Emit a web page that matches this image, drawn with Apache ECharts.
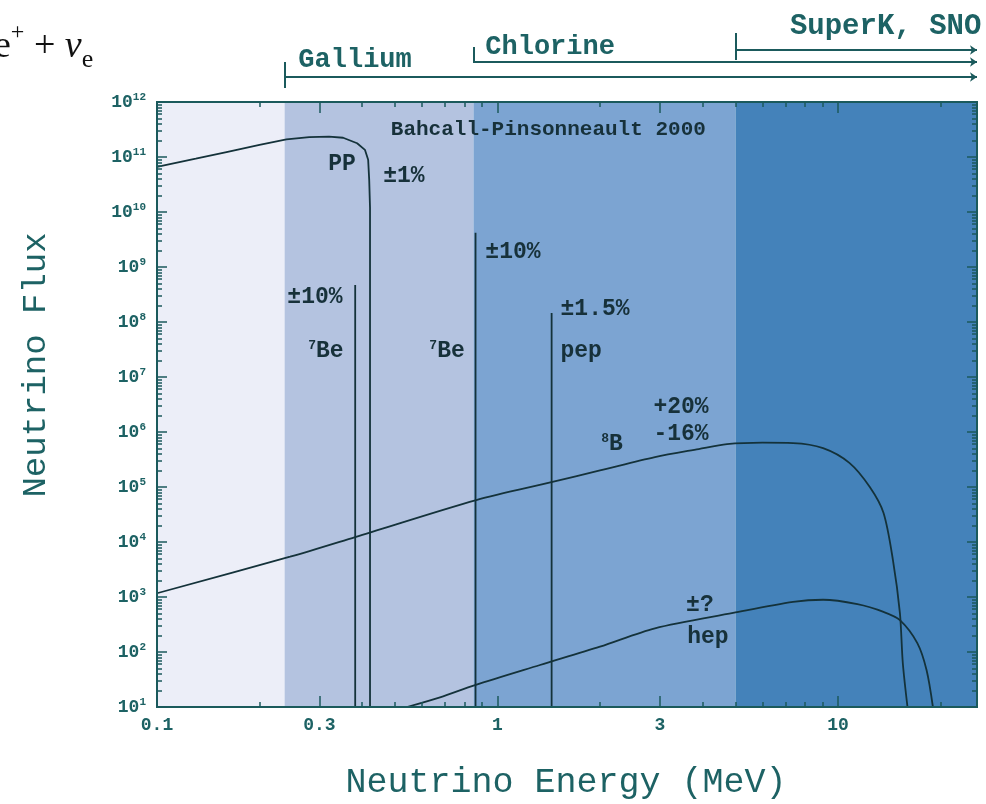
<!DOCTYPE html>
<html><head><meta charset="utf-8">
<script src="https://cdn.jsdelivr.net/npm/echarts@6/dist/echarts.min.js"></script>
<style>html,body{margin:0;padding:0;background:#fff}#c{width:986px;height:804px}</style>
</head><body><div id="c"></div>
<script>
// ---------------- data ----------------
const xLabelValues = [0.1, 0.3, 1, 3, 10];
const xLabelTexts = ['0.1', '0.3', '1', '3', '10'];
const xMinorTicks = [0.2, 0.4, 0.5, 0.6, 0.7, 0.8, 0.9, 2, 4, 5, 6, 7, 8, 9, 20];
const yLabelValues = [1e1, 1e2, 1e3, 1e4, 1e5, 1e6, 1e7, 1e8, 1e9, 1e10, 1e11, 1e12];

// [energy MeV, flux]
const ppSpectrum = [[0.1, 6.6e10], [0.13, 9.3e10], [0.16, 1.23e11], [0.2, 1.66e11], [0.24, 2.09e11],
  [0.28, 2.29e11], [0.32, 2.34e11], [0.352, 2.24e11], [0.387, 1.78e11], [0.408, 1.35e11],
  [0.417, 8.9e10], [0.420, 3.8e10], [0.4223, 1.2e10], [0.4223, 10]];
const be7LowLine = [[0.382, 10], [0.382, 4.7e8]];
const be7HighLine = [[0.862, 10], [0.862, 4.2e9]];
const pepLine = [[1.442, 10], [1.442, 1.45e8]];
const b8Spectrum = [[0.1, 1.17e3], [0.246, 5.4e3], [0.382, 1.23e4], [0.866, 5.8e4], [1.44, 1.23e5],
  [2.0, 2.0e5], [2.9, 3.5e5], [3.9, 4.9e5], [4.72, 6.0e5], [6.0, 6.4e5], [7.38, 6.3e5], [9.04, 5.1e5],
  [10.8, 2.75e5], [12.4, 1.0e5], [13.6, 3.4e4], [14.5, 4.7e3], [15.2, 5.1e2], [15.5, 63], [16.0, 10]];
const hepSpectrum = [[0.542, 10], [0.678, 15], [0.859, 25], [1.333, 58], [2.0, 125], [2.9, 270],
  [4.92, 513], [7.38, 813], [9.04, 891], [11.4, 741], [13.6, 537], [15.2, 380], [17.1, 145],
  [18.2, 47], [19.0, 10]];

// detector thresholds (MeV) and band edges
const bandEdges = [0.1, 0.237, 0.85, 5, 25.6];
const detectorNames = ['Gallium', 'Chlorine', 'SuperK, SNO'];
const detectorThresholds = [0.237, 0.85, 5];

// annotation texts
const annotationTexts = ['PP', '±1%', '±10%', '{sup|7}Be', '{sup|7}Be', '±10%', '±1.5%', 'pep',
  '+20%', '-16%', '{sup|8}B', '±?', 'hep', 'Bahcall-Pinsonneault 2000'];
const annotationAnchors = [[0.3495, 7.5e10], [0.531, 4.5e10], [0.291, 2.85e8], [0.3135, 2.97e7],
  [0.711, 2.97e7], [1.11, 1.87e9], [1.934, 1.72e8], [1.76, 2.97e7], [3.46, 2.85e6], [3.46, 9.2e5],
  [2.17, 6.05e5], [3.93, 716], [4.15, 188], [1.41, 3.1e11]];

// ---------------- styles ----------------
const MONO = '"Liberation Mono", "DejaVu Sans Mono", monospace';
const SERIF = '"Liberation Serif", "DejaVu Serif", serif';
const TEAL = '#1d6264';
const FRAME = '#1b5a5c';
const INK = '#17313a';
const CURVE = '#14323a';
const bandColors = ['#eceef8', '#b4c3e0', '#7ca4d2', '#4482ba'];
const X_MIN = 0.1, X_MAX = 25.6, Y_MIN = 10, Y_MAX = 1e12;

const yMinorTicks = [];
for (let d = 1; d <= 11; d++) for (let m = 2; m <= 9; m++) yMinorTicks.push(Number((m * Math.pow(10, d)).toPrecision(3)));

function logX(pos, ticks, len, labels) {
  return {
    type: 'log', logBase: 10, gridIndex: 0, position: pos, min: X_MIN, max: X_MAX, z: 20,
    axisLine: { show: true, lineStyle: { color: FRAME, width: 2 } },
    axisTick: { show: true, inside: true, length: len, customValues: ticks, lineStyle: { color: FRAME, width: 1.5 } },
    axisLabel: labels ? {
      show: true, customValues: xLabelValues, margin: 9,
      formatter: v => { const i = xLabelValues.findIndex(t => Math.abs(t - v) / t < 1e-6); return i >= 0 ? xLabelTexts[i] : ''; },
      fontFamily: MONO, fontSize: 18, fontWeight: 'bold', color: TEAL
    } : { show: false },
    splitLine: { show: false }, minorTick: { show: false }
  };
}
function logY(pos, ticks, len, labels) {
  return {
    type: 'log', logBase: 10, gridIndex: 0, position: pos, min: Y_MIN, max: Y_MAX, z: 20,
    axisLine: { show: true, lineStyle: { color: FRAME, width: 2 } },
    axisTick: { show: true, inside: true, length: len, customValues: ticks, lineStyle: { color: FRAME, width: 1.5 } },
    axisLabel: labels ? {
      show: true, customValues: yLabelValues, margin: 11,
      formatter: v => '{b|10}{s|' + Math.round(Math.log10(v)) + '}',
      rich: {
        b: { fontFamily: MONO, fontSize: 18, fontWeight: 'bold', color: TEAL, lineHeight: 20 },
        s: { fontFamily: MONO, fontSize: 11, fontWeight: 'bold', color: TEAL, lineHeight: 20, verticalAlign: 'top' }
      }
    } : { show: false },
    splitLine: { show: false }, minorTick: { show: false }
  };
}

const lineSeries = (name, data, smooth) => ({
  name, type: 'line', xAxisIndex: 0, yAxisIndex: 0, data, showSymbol: false, symbol: 'none',
  smooth: smooth || false,
  lineStyle: { color: CURVE, width: 1.8 }, z: 5, silent: true, animation: false
});

const bandAreas = [];
for (let i = 0; i < bandColors.length; i++) {
  bandAreas.push([{ xAxis: bandEdges[i], itemStyle: { color: bandColors[i] } }, { xAxis: bandEdges[i + 1] }]);
}

const ppSer = lineSeries('pp', ppSpectrum);
ppSer.markArea = { silent: true, data: bandAreas, itemStyle: { opacity: 1 } };

// top detector lines (in second grid, y in row units)
const rowLine = [77, 62, 50];
const rowTick = [[62, 88], [47, 63], [33, 60]];
const rowLabel = [60, 47, 27];
const labelX = [0.3816, 1.427, 13.8];
const labelSize = [27, 27, 29];

const topLines = [], topTicks = [], topLabels = [];
for (let i = 0; i < detectorNames.length; i++) {
  topLines.push({ coords: [[detectorThresholds[i], rowLine[i]], [X_MAX, rowLine[i]]] });
  topTicks.push({ coords: [[detectorThresholds[i], rowTick[i][0]], [detectorThresholds[i], rowTick[i][1]]] });
  topLabels.push({ value: [labelX[i], rowLabel[i]], label: { formatter: detectorNames[i], fontSize: labelSize[i] } });
}

const annData = annotationTexts.map((t, i) => ({
  value: annotationAnchors[i],
  label: { formatter: t, fontSize: i === annotationTexts.length - 1 ? 21 : 23 }
}));

const option = {
  backgroundColor: '#ffffff',
  animation: false,
  grid: [
    { left: 157, top: 102, width: 820, height: 605, outerBoundsMode: 'none', containLabel: false },
    { left: 157, top: 0, width: 820, height: 102, outerBoundsMode: 'none', containLabel: false }
  ],
  xAxis: [
    logX('bottom', xLabelValues, 11, true),
    logX('bottom', xMinorTicks, 5, false),
    logX('top', xLabelValues, 11, false),
    logX('top', xMinorTicks, 5, false),
    { type: 'log', gridIndex: 1, min: X_MIN, max: X_MAX, show: false }
  ],
  yAxis: [
    logY('left', yLabelValues, 10, true),
    logY('left', yMinorTicks, 5, false),
    logY('right', yLabelValues, 10, false),
    logY('right', yMinorTicks, 5, false),
    { type: 'value', gridIndex: 1, min: 0, max: 102, inverse: true, show: false }
  ],
  series: [
    ppSer,
    lineSeries('7Be 0.38', be7LowLine),
    lineSeries('7Be 0.86', be7HighLine),
    lineSeries('pep', pepLine),
    lineSeries('8B', b8Spectrum, 0.3),
    lineSeries('hep', hepSpectrum, 0.3),
    {
      type: 'scatter', xAxisIndex: 0, yAxisIndex: 0, data: annData, symbolSize: 1,
      itemStyle: { color: 'rgba(0,0,0,0)', opacity: 1 }, silent: true, z: 6, clip: false,
      label: {
        show: true, position: 'inside', fontFamily: MONO, fontWeight: 'bold', color: INK, opacity: 1,
        rich: { sup: { fontFamily: MONO, fontWeight: 'bold', fontSize: 13, color: INK, verticalAlign: 'top', lineHeight: 24 } }
      }
    },
    {
      type: 'lines', coordinateSystem: 'cartesian2d', xAxisIndex: 4, yAxisIndex: 4, data: topLines,
      symbol: ['none', 'arrow'], symbolSize: 7, silent: true,
      lineStyle: { color: FRAME, width: 2, opacity: 1, curveness: 0 }
    },
    {
      type: 'lines', coordinateSystem: 'cartesian2d', xAxisIndex: 4, yAxisIndex: 4, data: topTicks,
      symbol: 'none', silent: true, lineStyle: { color: FRAME, width: 2, opacity: 1 }
    },
    {
      type: 'scatter', xAxisIndex: 4, yAxisIndex: 4, data: topLabels, symbolSize: 1,
      itemStyle: { color: 'rgba(0,0,0,0)', opacity: 1 }, silent: true, clip: false,
      label: { show: true, position: 'inside', fontFamily: MONO, fontWeight: 'bold', fontSize: 27, color: TEAL, opacity: 1 }
    }
  ],
  graphic: [
    {
      type: 'text', x: -6, y: 47, silent: true,
      style: {
        text: '{a|e}{sup|+}{a| + }{i|ν}{sub|e}',
        rich: {
          a: { fontFamily: SERIF, fontSize: 38, fill: '#111', lineHeight: 44 },
          sup: { fontFamily: SERIF, fontSize: 24, fill: '#111', verticalAlign: 'top', lineHeight: 44 },
          i: { fontFamily: SERIF, fontSize: 38, fontStyle: 'italic', fill: '#111', lineHeight: 44 },
          sub: { fontFamily: SERIF, fontSize: 26, fill: '#111', verticalAlign: 'bottom', lineHeight: 52 }
        },
        verticalAlign: 'middle'
      }
    },
    {
      type: 'text', x: 566, y: 783, silent: true,
      style: { text: 'Neutrino Energy (MeV)', font: '35px ' + MONO, fill: TEAL, align: 'center', verticalAlign: 'middle' }
    },
    {
      type: 'text', x: 36, y: 365, rotation: Math.PI / 2, silent: true,
      style: { text: 'Neutrino Flux', font: '34px ' + MONO, fill: TEAL, align: 'center', verticalAlign: 'middle' }
    }
  ]
};

const chart = echarts.init(document.getElementById('c'));
chart.setOption(option);
</script>
</body></html>
